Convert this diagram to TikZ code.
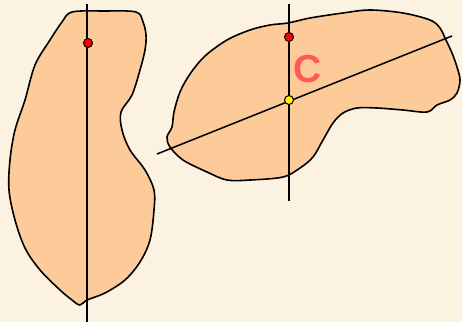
\documentclass[tikz,border=0pt]{standalone}
\usepackage{fontspec}
\setmainfont{Liberation Sans}
\definecolor{bg}{HTML}{FCF2E1}
\definecolor{peach}{HTML}{FDCB99}
\definecolor{clab}{HTML}{FF5A5A}
\tikzset{
  blob/.style={draw=black, line width=1.6pt, fill=peach, line join=round},
  axis/.style={draw=black, line width=1.5pt},
  dot/.style={circle, draw=black, line width=1pt, inner sep=0pt, minimum size=9pt},
}
\begin{document}
\begin{tikzpicture}[x=1pt,y=-1pt]
\fill[bg] (0,0) rectangle (462,322);
\useasboundingbox (0,0) rectangle (462,322);
% left shape
\draw[blob] plot[smooth cycle, tension=0.55] coordinates {
 (72,12) (104,11) (136,12) (143,22) (146,35) (145,50) (140,70) (132,95) (121,112)
 (122,130) (130,150) (145,170) (154,190) (154,210) (150,240) (140,262) (125,280)
 (105,293) (87,300) (80,305) (72,300) (60,290) (40,270) (25,248) (15,220) (9,190)
 (10,160) (15,130) (25,100) (35,65) (50,40) (62,22)};
% right shape
\draw[blob] plot[smooth cycle, tension=0.55] coordinates {
 (288,23) (310,18) (343,13) (370,10) (403,13) (430,20) (440,28) (445,38) (452,53)
 (457,67) (460,80) (457,93) (450,100) (437,105) (427,112) (403,110) (377,108)
 (357,108) (343,113) (333,123) (323,140) (313,157) (300,168) (283,177) (250,180)
 (227,180) (207,172) (183,160) (170,147) (167,137) (172,127) (174,112) (180,92)
 (190,74) (205,56) (227,40) (250,30) (270,25)};
% left axis
\coordinate (la1) at (87,4);
\coordinate (la2) at (87,322);
\draw[axis] (la1) -- (la2);
\node[dot, fill=red] (ld) at (88,43) {};
% right axes
\coordinate (rv1) at (289,4);
\coordinate (rv2) at (289,201);
\draw[axis] (rv1) -- (rv2);
\coordinate (rs1) at (157,154);
\coordinate (rs2) at (452,36);
\draw[axis] (rs1) -- (rs2);
\node[dot, fill=red] (rd) at (289,37) {};
\node[dot, fill=yellow] (yd) at (289,100) {};
\node[text=clab, font=\bfseries\fontsize{39}{39}\selectfont, inner sep=0pt] (c) at (308,69) {C};
\end{tikzpicture}
\end{document}
